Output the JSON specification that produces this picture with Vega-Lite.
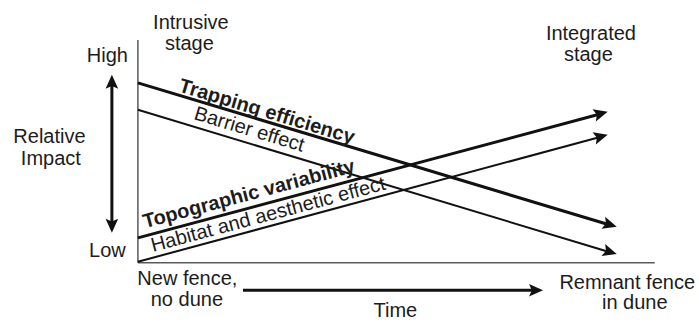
{
  "$schema": "https://vega.github.io/schema/vega-lite/v6.json",
  "width": 699,
  "height": 323,
  "padding": 0,
  "autosize": {"type": "none"},
  "background": "white",
  "config": {
    "view": {"stroke": null},
    "text": {"font": "Liberation Sans", "fontSize": 20, "color": "#1c1c1c"},
    "line": {"color": "#111111", "strokeCap": "butt"}
  },
  "datasets": {
    "frame": [
      {"axis": "impact", "time": 0, "impact": 0},
      {"axis": "impact", "time": 0, "impact": 10},
      {"axis": "time", "time": 0, "impact": 0},
      {"axis": "time", "time": 10.87, "impact": 0}
    ],
    "trends": [
      {"factor": "Trapping efficiency", "weight": "primary", "time": 0, "impact": 8.08},
      {"factor": "Trapping efficiency", "weight": "primary", "time": 9.91, "impact": 1.71},
      {"factor": "Barrier effect", "weight": "secondary", "time": 0, "impact": 6.87},
      {"factor": "Barrier effect", "weight": "secondary", "time": 9.91, "impact": 0.49},
      {"factor": "Topographic variability", "weight": "primary", "time": 0, "impact": 1.12},
      {"factor": "Topographic variability", "weight": "primary", "time": 9.72, "impact": 6.68},
      {"factor": "Habitat and aesthetic effect", "weight": "secondary", "time": 0, "impact": 0.05},
      {"factor": "Habitat and aesthetic effect", "weight": "secondary", "time": 9.72, "impact": 5.65}
    ],
    "guides": [
      {"guide": "impact scale", "time": -0.547, "impact": 1.71},
      {"guide": "impact scale", "time": -0.547, "impact": 8.08},
      {"guide": "time", "time": 2.21, "impact": -1.23},
      {"guide": "time", "time": 8.35, "impact": -1.23}
    ],
    "heads": [
      {"of": "Trapping efficiency", "points": "down-right", "time": 10.07, "impact": 1.62},
      {"of": "Barrier effect", "points": "down-right", "time": 10.07, "impact": 0.4},
      {"of": "Topographic variability", "points": "up-right", "time": 9.88, "impact": 6.78},
      {"of": "Habitat and aesthetic effect", "points": "up-right", "time": 9.88, "impact": 5.75},
      {"of": "impact scale", "points": "up", "time": -0.547, "impact": 8.44},
      {"of": "impact scale", "points": "down", "time": -0.547, "impact": 1.35},
      {"of": "time", "points": "right", "time": 8.52, "impact": -1.23}
    ],
    "factorLabels": [
      {"label": "Trapping efficiency", "trend": "decreasing", "weight": "primary", "time": 0.84, "impact": 7.7},
      {"label": "Barrier effect", "trend": "decreasing", "weight": "secondary", "time": 1.157, "impact": 6.46},
      {"label": "Topographic variability", "trend": "increasing", "weight": "primary", "time": 0.147, "impact": 1.55},
      {"label": "Habitat and aesthetic effect", "trend": "increasing", "weight": "secondary", "time": 0.315, "impact": 0.49}
    ],
    "notes": [
      {"note": "Intrusive", "time": 1.115, "impact": 10.48},
      {"note": "stage", "time": 1.083, "impact": 9.54},
      {"note": "Integrated", "time": 9.527, "impact": 10.01},
      {"note": "stage", "time": 9.474, "impact": 9.04},
      {"note": "High", "time": -0.641, "impact": 9.02},
      {"note": "Low", "time": -0.641, "impact": 0.27},
      {"note": "Relative", "time": -1.86, "impact": 5.39},
      {"note": "Impact", "time": -1.83, "impact": 4.4},
      {"note": "New fence,", "time": 1.04, "impact": -0.99},
      {"note": "no dune", "time": 1.03, "impact": -1.93},
      {"note": "Time", "time": 5.415, "impact": -2.42},
      {"note": "Remnant fence", "time": 10.29, "impact": -1.17},
      {"note": "in dune", "time": 10.45, "impact": -2.09}
    ]
  },
  "encoding": {
    "x": {"field": "time", "type": "quantitative", "scale": {"domain": [-2.9, 11.8], "nice": false, "zero": false}, "axis": null},
    "y": {"field": "impact", "type": "quantitative", "scale": {"domain": [-2.7, 11.8], "nice": false, "zero": false}, "axis": null}
  },
  "layer": [
    {
      "data": {"name": "frame"},
      "mark": {"type": "line", "color": "#5a5a5a", "strokeWidth": 1.5},
      "encoding": {"detail": {"field": "axis"}}
    },
    {
      "data": {"name": "trends"},
      "transform": [{"filter": "datum.weight === 'primary'"}],
      "mark": {"type": "line", "strokeWidth": 3},
      "encoding": {"detail": {"field": "factor"}}
    },
    {
      "data": {"name": "trends"},
      "transform": [{"filter": "datum.weight === 'secondary'"}],
      "mark": {"type": "line", "strokeWidth": 2},
      "encoding": {"detail": {"field": "factor"}}
    },
    {
      "data": {"name": "guides"},
      "mark": {"type": "line", "strokeWidth": 3},
      "encoding": {"detail": {"field": "guide"}}
    },
    {
      "data": {"name": "heads"},
      "transform": [{"filter": "datum.points === 'down-right'"}],
      "mark": {"type": "point", "shape": "M0,0L-2,-0.9L-1.6,0L-2,0.9Z", "filled": true, "size": 196, "angle": 16.75, "color": "#111111", "opacity": 1}
    },
    {
      "data": {"name": "heads"},
      "transform": [{"filter": "datum.points === 'up-right'"}],
      "mark": {"type": "point", "shape": "M0,0L-2,-0.9L-1.6,0L-2,0.9Z", "filled": true, "size": 196, "angle": 345, "color": "#111111", "opacity": 1}
    },
    {
      "data": {"name": "heads"},
      "transform": [{"filter": "datum.points === 'up'"}],
      "mark": {"type": "point", "shape": "M0,0L-2,-0.9L-1.6,0L-2,0.9Z", "filled": true, "size": 196, "angle": 270, "color": "#111111", "opacity": 1}
    },
    {
      "data": {"name": "heads"},
      "transform": [{"filter": "datum.points === 'down'"}],
      "mark": {"type": "point", "shape": "M0,0L-2,-0.9L-1.6,0L-2,0.9Z", "filled": true, "size": 196, "angle": 90, "color": "#111111", "opacity": 1}
    },
    {
      "data": {"name": "heads"},
      "transform": [{"filter": "datum.points === 'right'"}],
      "mark": {"type": "point", "shape": "M0,0L-2,-0.9L-1.6,0L-2,0.9Z", "filled": true, "size": 196, "angle": 0, "color": "#111111", "opacity": 1}
    },
    {
      "data": {"name": "factorLabels"},
      "transform": [{"filter": "datum.trend === 'decreasing' && datum.weight === 'primary'"}],
      "mark": {"type": "text", "align": "left", "baseline": "alphabetic", "angle": 16.75, "fontWeight": "bold"},
      "encoding": {"text": {"field": "label"}}
    },
    {
      "data": {"name": "factorLabels"},
      "transform": [{"filter": "datum.trend === 'decreasing' && datum.weight === 'secondary'"}],
      "mark": {"type": "text", "align": "left", "baseline": "alphabetic", "angle": 16.75},
      "encoding": {"text": {"field": "label"}}
    },
    {
      "data": {"name": "factorLabels"},
      "transform": [{"filter": "datum.trend === 'increasing' && datum.weight === 'primary'"}],
      "mark": {"type": "text", "align": "left", "baseline": "alphabetic", "angle": 345, "fontWeight": "bold"},
      "encoding": {"text": {"field": "label"}}
    },
    {
      "data": {"name": "factorLabels"},
      "transform": [{"filter": "datum.trend === 'increasing' && datum.weight === 'secondary'"}],
      "mark": {"type": "text", "align": "left", "baseline": "alphabetic", "angle": 345},
      "encoding": {"text": {"field": "label"}}
    },
    {
      "data": {"name": "notes"},
      "mark": {"type": "text", "align": "center", "baseline": "alphabetic"},
      "encoding": {"text": {"field": "note"}}
    }
  ]
}
